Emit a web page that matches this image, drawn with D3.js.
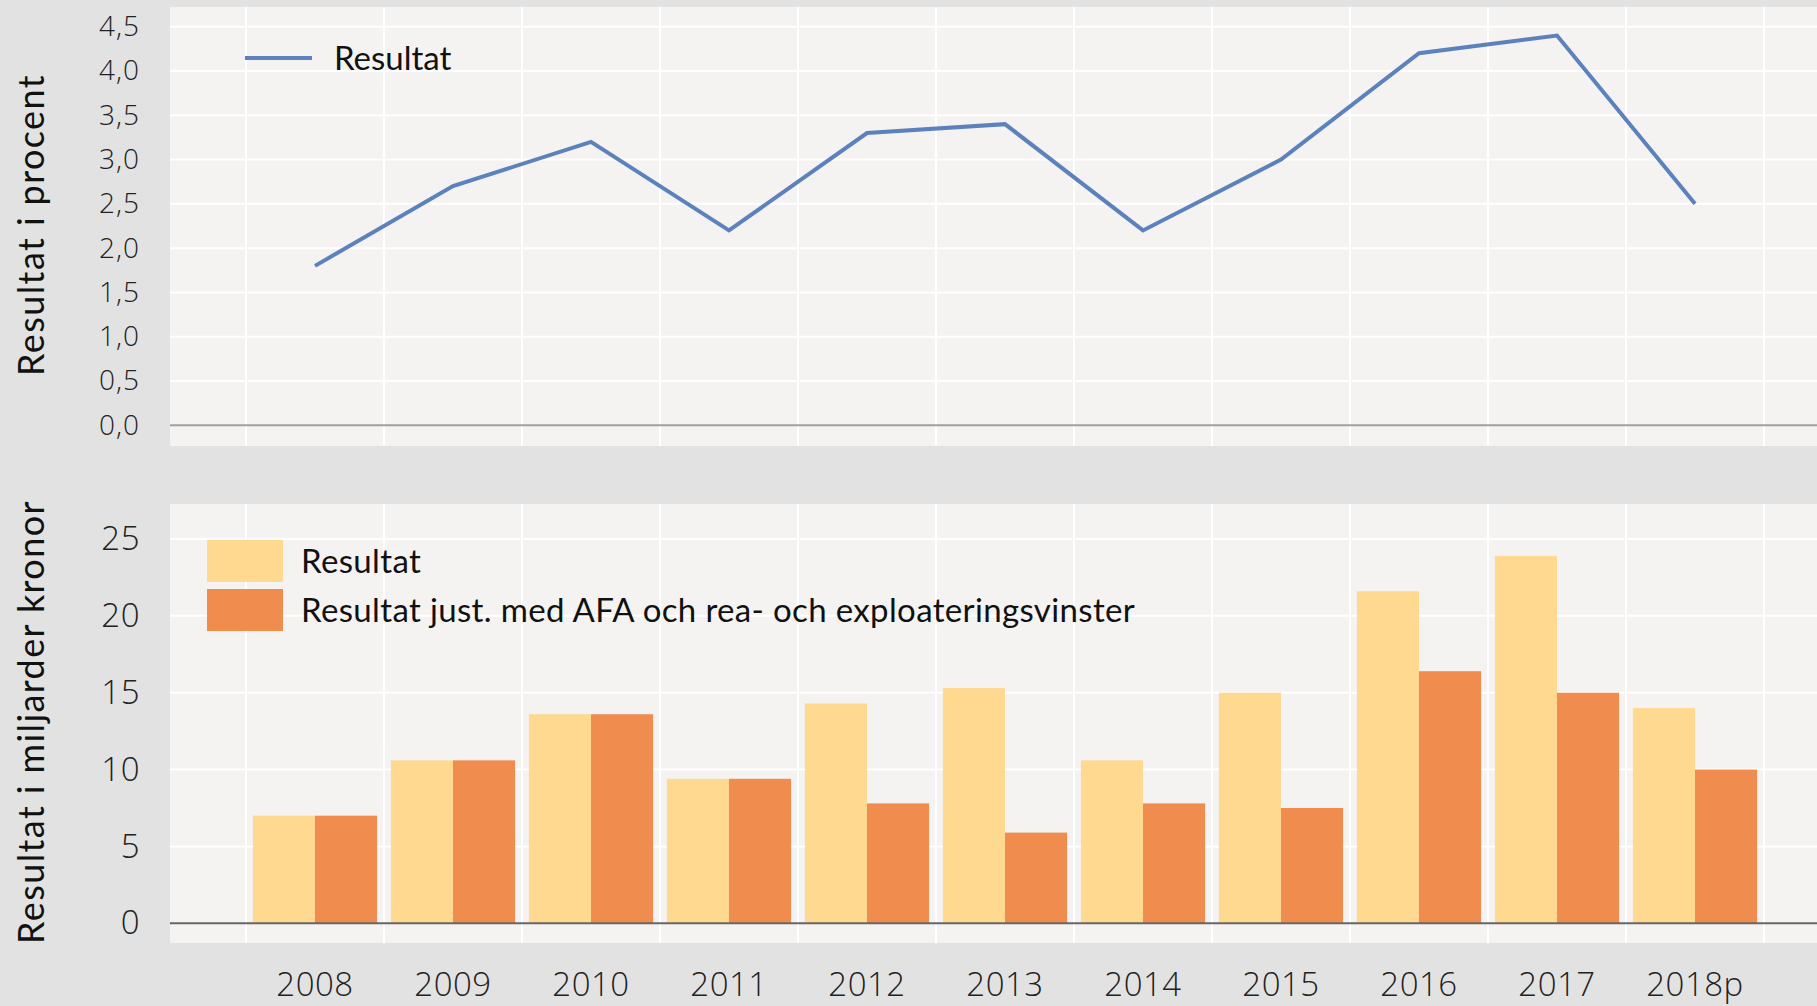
<!DOCTYPE html>
<html lang="sv">
<head>
    <meta charset="UTF-8">
    <title>Resultat 2008–2018p</title>
    <script src="https://d3js.org/d3.v7.min.js"></script>
    <style>
        html, body {
            margin: 0;
            padding: 0;
            background: #e2e2e2;
        }
        svg {
            display: block;
            font-family: Lato, "Open Sans", sans-serif;
        }
        .tick text {
            fill: #222;
            font-family: "Open Sans", Lato, sans-serif;
            font-weight: 300;
        }
    </style>
</head>
<body>
<div id="chart"></div>
<script>
    // Data
    const years = ["2008", "2009", "2010", "2011", "2012", "2013", "2014", "2015", "2016", "2017", "2018p"];
    const resultatProcent = [1.8, 2.7, 3.2, 2.2, 3.3, 3.4, 2.2, 3.0, 4.2, 4.4, 2.5];
    const resultatMdkr = [7.0, 10.6, 13.6, 9.4, 14.3, 15.3, 10.6, 15.0, 21.6, 23.9, 14.0];
    const justeratMdkr = [7.0, 10.6, 13.6, 9.4, 7.8, 5.9, 7.8, 7.5, 16.4, 15.0, 10.0];
    const procentTicks = [0, 0.5, 1, 1.5, 2, 2.5, 3, 3.5, 4, 4.5];
    const mdkrTicks = [0, 5, 10, 15, 20, 25];
    const barSeries = ["Resultat", "Resultat just. med AFA och rea- och exploateringsvinster"];

    const width = 1817, height = 1006;
    const panelLeft = 170, panelRight = width;
    const top1 = 7, bottom1 = 446;      // upper panel
    const top2 = 504, bottom2 = 943;    // lower panel

    const lineColor = "#5b82bd";
    const barColors = ["#fed98f", "#f08c4e"];

    const svg = d3.select("#chart")
        .append("svg")
        .attr("width", width)
        .attr("height", height);

    const sv = d3.formatLocale({decimal: ",", thousands: " ", grouping: [3], currency: ["", " kr"]});

    const x = d3.scaleBand()
        .domain(years)
        .range([246, 1764])
        .padding(0);

    const yPct = d3.scaleLinear().domain([0, 4.5]).range([425.3, 26.7]);
    const yKr = d3.scaleLinear().domain([0, 25]).range([923.3, 539]);

    function panel(y0, y1, yScale, ticks) {
        const g = svg.append("g");
        g.append("rect")
            .attr("x", panelLeft).attr("y", y0)
            .attr("width", panelRight - panelLeft).attr("height", y1 - y0)
            .attr("fill", "#f4f3f1");
        // horizontal grid
        g.selectAll("line.h").data(ticks.filter(t => t !== 0)).join("line")
            .attr("x1", panelLeft).attr("x2", panelRight)
            .attr("y1", d => yScale(d)).attr("y2", d => yScale(d))
            .attr("stroke", "#fff").attr("stroke-width", 2);
        // vertical grid at category edges
        const edges = years.map(d => x(d)).concat([x(years[years.length - 1]) + x.bandwidth()]);
        g.selectAll("line.v").data(edges).join("line")
            .attr("x1", d => d).attr("x2", d => d)
            .attr("y1", y0).attr("y2", y1)
            .attr("stroke", "#fff").attr("stroke-width", 2);
        return g;
    }

    // ---------- upper panel: line ----------
    const g1 = panel(top1, bottom1, yPct, procentTicks);

    g1.append("line")
        .attr("x1", panelLeft).attr("x2", panelRight)
        .attr("y1", yPct(0)).attr("y2", yPct(0))
        .attr("stroke", "#a0a0a0").attr("stroke-width", 2);

    const line = d3.line()
        .x((d, i) => x(years[i]) + x.bandwidth() / 2)
        .y(d => yPct(d));

    g1.append("path")
        .datum(resultatProcent)
        .attr("fill", "none")
        .attr("stroke", lineColor)
        .attr("stroke-width", 4)
        .attr("d", line);

    svg.append("g")
        .attr("transform", "translate(140,0)")
        .call(d3.axisLeft(yPct).tickValues(procentTicks).tickSize(0).tickPadding(0).tickFormat(sv.format(".1f")))
        .call(g => g.select(".domain").remove())
        .selectAll("text").attr("font-size", 28).attr("letter-spacing", "1px");

    svg.append("text")
        .attr("transform", "translate(31,225) rotate(-90)")
        .attr("text-anchor", "middle")
        .attr("dy", "0.35em")
        .attr("font-size", 36)
        .attr("letter-spacing", "1.4px")
        .attr("fill", "#111")
        .text("Resultat i procent");

    // legend upper
    svg.append("line")
        .attr("x1", 245).attr("x2", 312).attr("y1", 58).attr("y2", 58)
        .attr("stroke", lineColor).attr("stroke-width", 4);
    svg.append("text")
        .attr("x", 334).attr("y", 58).attr("dy", "0.35em")
        .attr("font-size", 33).attr("fill", "#111")
        .text("Resultat");

    // ---------- lower panel: grouped bars ----------
    const g2 = panel(top2, bottom2, yKr, mdkrTicks);

    const xSub = d3.scaleBand()
        .domain([0, 1])
        .range([x.bandwidth() * 0.05, x.bandwidth() * 0.95]);

    const rows = years.map((yr, i) => ({year: yr, vals: [resultatMdkr[i], justeratMdkr[i]]}));

    g2.selectAll("g.grp").data(rows).join("g")
        .attr("transform", d => `translate(${x(d.year)},0)`)
        .selectAll("rect").data(d => d.vals.map((v, k) => ({v, k}))).join("rect")
        .attr("x", d => xSub(d.k))
        .attr("width", xSub.bandwidth())
        .attr("y", d => yKr(d.v))
        .attr("height", d => yKr(0) - yKr(d.v))
        .attr("fill", d => barColors[d.k]);

    g2.append("line")
        .attr("x1", panelLeft).attr("x2", panelRight)
        .attr("y1", yKr(0)).attr("y2", yKr(0))
        .attr("stroke", "#666").attr("stroke-width", 2);

    svg.append("g")
        .attr("transform", "translate(140,0)")
        .call(d3.axisLeft(yKr).tickValues(mdkrTicks).tickSize(0).tickPadding(0))
        .call(g => g.select(".domain").remove())
        .selectAll("text").attr("font-size", 33).attr("letter-spacing", "0.5px");

    svg.append("g")
        .attr("transform", "translate(0,972)")
        .call(d3.axisBottom(x).tickSize(0).tickPadding(0))
        .call(g => g.select(".domain").remove())
        .selectAll("text").attr("font-size", 33).attr("letter-spacing", "0.5px")
        .attr("dy", "0.35em").attr("y", 12);

    svg.append("text")
        .attr("transform", "translate(31,722) rotate(-90)")
        .attr("text-anchor", "middle")
        .attr("dy", "0.35em")
        .attr("font-size", 36)
        .attr("letter-spacing", "1.4px")
        .attr("fill", "#111")
        .text("Resultat i miljarder kronor");

    // legend lower
    const leg = svg.append("g").selectAll("g").data(barSeries).join("g")
        .attr("transform", (d, i) => `translate(207,${540 + i * 49})`);
    leg.append("rect")
        .attr("width", 76).attr("height", 42)
        .attr("fill", (d, i) => barColors[i]);
    leg.append("text")
        .attr("x", 94).attr("y", 21).attr("dy", "0.35em")
        .attr("font-size", 33).attr("letter-spacing", "0.35px").attr("fill", "#111")
        .text(d => d);
</script>
</body>
</html>
